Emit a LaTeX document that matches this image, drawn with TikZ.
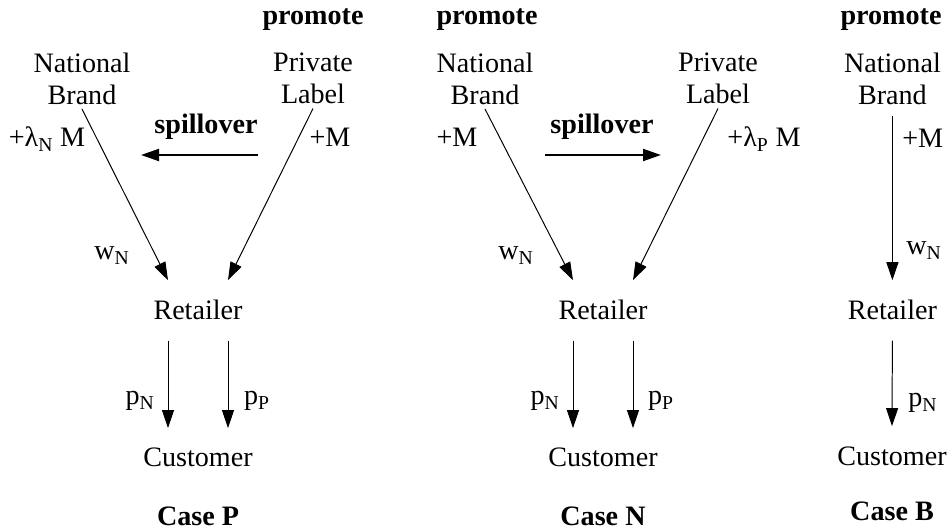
\documentclass[tikz,border=0pt]{standalone}
\usepackage{fontspec}
\setmainfont{Liberation Serif}
\usetikzlibrary{arrows.meta}

\begin{document}
\begin{tikzpicture}[scale=1.0,
        >={Triangle[length=0.45cm,width=0.3cm]},
        testo/.style={font=\fontsize{20}{22.8}\selectfont, inner sep=0pt},
        marca/.style={testo, align=center, inner sep=0.1cm},
        attore/.style={testo, anchor=base, inner ysep=0.5cm},
        etichetta/.style={testo, anchor=base},
        grassetto/.style={etichetta, font=\fontsize{20}{22.8}\selectfont\bfseries},
        flusso/.style={->, line width=0.7pt},
        travaso/.style={->, line width=1.4pt}]

        \useasboundingbox (0,0) rectangle (23.725,13.275);

        % Caso P: promuove la marca privata
        \node[grassetto] (promP) at (7.825,12.65) {promote};
        \node[marca] (nbP) at (2.05,11.305) {National\\Brand};
        \node[marca] (plP) at (7.825,11.305) {Private\\Label};
        \node[attore] (retP) at (4.95,5.275) {Retailer};
        \node[attore] (cusP) at (4.95,1.6) {Customer};
        \node[grassetto] (caseP) at (4.95,0.15) {Case P};

        \draw[flusso] (nbP.south) -- ([xshift=-0.75cm]retP.north);
        \draw[flusso] (plP.south) -- ([xshift=0.75cm]retP.north);
        \draw[flusso] ([xshift=-0.75cm]retP.south) -- ([xshift=-0.75cm]cusP.north);
        \draw[flusso] ([xshift=0.75cm]retP.south) -- ([xshift=0.75cm]cusP.north);

        \node[grassetto] (spP) at (5.15,9.925) {spillover};
        \coordinate (spPa) at (6.45,9.4);
        \coordinate (spPb) at (3.525,9.4);
        \draw[travaso] (spPa) -- (spPb);

        \node[etichetta] (lamP) at (1.175,9.6) {+λ\textsubscript{N} M};
        \node[etichetta] (mP) at (8.25,9.6) {+M};
        \node[etichetta] (wP) at (2.8,6.775) {w\textsubscript{N}};
        \node[etichetta] (pnP) at (3.5,3.15) {p\textsubscript{N}};
        \node[etichetta] (ppP) at (6.425,3.15) {p\textsubscript{P}};

        % Caso N: promuove la marca nazionale
        \node[grassetto] (promN) at (12.175,12.65) {promote};
        \node[marca] (nbN) at (12.125,11.305) {National\\Brand};
        \node[marca] (plN) at (17.95,11.305) {Private\\Label};
        \node[attore] (retN) at (15.075,5.275) {Retailer};
        \node[attore] (cusN) at (15.075,1.6) {Customer};
        \node[grassetto] (caseN) at (15.075,0.15) {Case N};

        \draw[flusso] (nbN.south) -- ([xshift=-0.75cm]retN.north);
        \draw[flusso] (plN.south) -- ([xshift=0.75cm]retN.north);
        \draw[flusso] ([xshift=-0.75cm]retN.south) -- ([xshift=-0.75cm]cusN.north);
        \draw[flusso] ([xshift=0.75cm]retN.south) -- ([xshift=0.75cm]cusN.north);

        \node[grassetto] (spN) at (15.05,9.925) {spillover};
        \coordinate (spNa) at (13.625,9.4);
        \coordinate (spNb) at (16.525,9.4);
        \draw[travaso] (spNa) -- (spNb);

        \node[etichetta] (mN) at (11.425,9.6) {+M};
        \node[etichetta] (lamN) at (19.1,9.6) {+λ\textsubscript{P} M};
        \node[etichetta] (wN) at (12.9,6.775) {w\textsubscript{N}};
        \node[etichetta] (pnN) at (13.625,3.15) {p\textsubscript{N}};
        \node[etichetta] (ppN) at (16.525,3.15) {p\textsubscript{P}};

        % Caso B: solo la marca nazionale
        \node[grassetto] (promB) at (22.275,12.65) {promote};
        \node[marca] (nbB) at (22.31,11.305) {National\\Brand};
        \node[attore] (retB) at (22.31,5.275) {Retailer};
        \node[attore] (cusB) at (22.3,1.65) {Customer};
        \node[grassetto] (caseB) at (22.3,0.275) {Case B};

        \draw[flusso] ([yshift=-0.18cm]nbB.south) -- (retB.north);
        \draw[flusso] (retB.south) -- (cusB.north);

        \node[etichetta, anchor=base west] (mB) at (22.55,9.575) {+M};
        \node[etichetta, anchor=base west] (wB) at (22.65,6.9) {w\textsubscript{N}};
        \node[etichetta, anchor=base west] (pnB) at (22.7,3.1) {p\textsubscript{N}};

    \end{tikzpicture}
\end{document}
